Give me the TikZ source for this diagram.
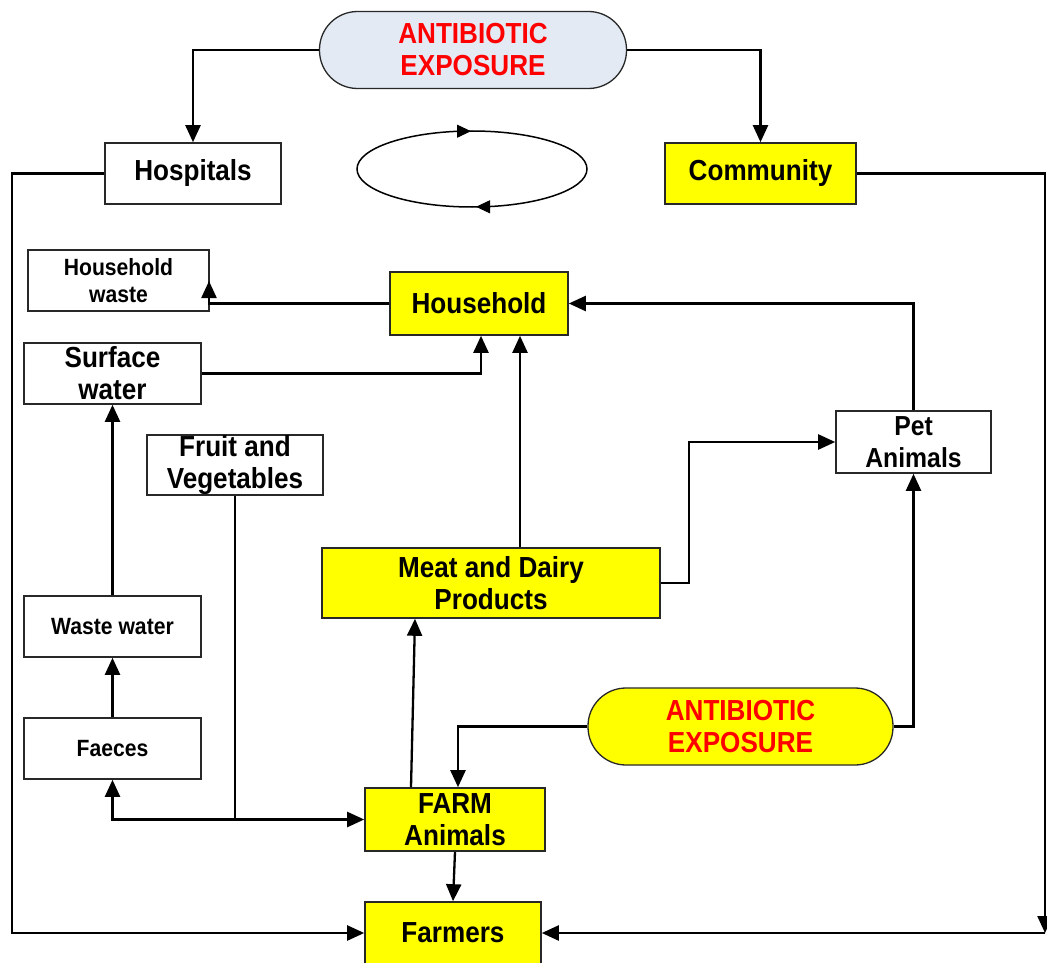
\documentclass[tikz,border=0pt]{standalone}
\usepackage{fontspec}
\setmainfont{Liberation Sans}[FakeStretch=0.9]
\usetikzlibrary{arrows.meta}
\definecolor{pillblue}{RGB}{227,234,244}
\definecolor{boxyellow}{RGB}{255,255,0}
\definecolor{boxedge}{RGB}{40,40,40}
\tikzset{
  box/.style={draw=boxedge, line width=1.6pt, fill=white, inner sep=0pt, align=center,
    font=\bfseries\fontsize{29}{32}\selectfont},
  ybox/.style={box, fill=boxyellow},
  smallbox/.style={box, font=\bfseries\fontsize{23.5}{27}\selectfont},
  pill/.style={draw=boxedge, line width=1.3pt, rounded corners=38pt, inner sep=0pt, align=center,
    text=red, font=\bfseries\fontsize{29}{32}\selectfont},
  conn/.style={draw=black, line width=2.3pt},
  arr/.style={conn, -{Triangle[length=17pt,width=15pt]}},
  darr/.style={conn, {Triangle[length=17pt,width=15pt]}-{Triangle[length=17pt,width=15pt]}},
}
\begin{document}
\begin{tikzpicture}[x=1pt,y=-1pt]
\useasboundingbox (0,0) rectangle (1047,963);
\fill[white] (0,0) rectangle (1047,963);

% nodes
\node[pill, fill=pillblue, minimum width=307pt, minimum height=77pt] (top) at (473,50) {ANTIBIOTIC\\EXPOSURE};
\node[box, minimum width=176pt, minimum height=61pt] (hosp) at (193,173.5) {Hospitals};
\node[ybox, minimum width=191pt, minimum height=61pt] (comm) at (760.5,173.5) {Community};
\node[smallbox, minimum width=181pt, minimum height=61pt] (hw) at (118.5,280.5) {Household\\waste};
\node[ybox, minimum width=178pt, minimum height=63pt] (house) at (479,303.5) {Household};
\node[box, minimum width=177pt, minimum height=61pt] (sw) at (112.5,373.5) {Surface\\water};
\node[box, minimum width=176pt, minimum height=60pt] (fv) at (235,465) {Fruit and\\Vegetables};
\node[box, minimum width=155pt, minimum height=62pt, font=\bfseries\fontsize{27.5}{32}\selectfont] (pet) at (913.5,442) {Pet\\Animals};
\node[ybox, minimum width=338pt, minimum height=70pt] (meat) at (491,583) {Meat and Dairy\\Products};
\node[pill, fill=boxyellow, minimum width=305pt, minimum height=77pt] (ab) at (740.5,726.5) {ANTIBIOTIC\\EXPOSURE};
\node[smallbox, minimum width=177pt, minimum height=61pt] (ww) at (112.5,626.5) {Waste water};
\node[smallbox, minimum width=177pt, minimum height=61pt] (fa) at (112.5,748.5) {Faeces};
\node[ybox, minimum width=180pt, minimum height=63pt] (farm) at (455,819.5) {FARM\\Animals};
\node[ybox, minimum width=176pt, minimum height=62pt] (farmers) at (453,933) {Farmers};

% cycle ellipse
\draw[line width=1.5pt] (472,169) ellipse [x radius=115pt, y radius=38pt];
\coordinate (ea1) at (450,131.2);
\coordinate (ea2) at (471,131.2);
\coordinate (eb1) at (497,206.8);
\coordinate (eb2) at (476,206.8);
\draw[line width=1pt, -{Triangle[length=14pt,width=13pt]}] (ea1) -- (ea2);
\draw[line width=1pt, -{Triangle[length=14pt,width=13pt]}] (eb1) -- (eb2);

% helper coordinates
\coordinate (hwt) at (209,281);
\coordinate (rc) at (1045,933);

% connectors
\draw[arr] (top.west) -| (hosp.north);
\draw[arr] (top.east) -| (comm.north);
\draw[arr] (hosp.west) -- ++(-92,0) |- (farmers.west);
\draw[arr] (comm.east) -| (rc);
\draw[arr] (rc) -- (farmers.east);
\draw[arr] (house.west) -| (hwt);
\draw[arr] (sw.east) -| ([xshift=2pt]house.south);
\draw[arr] ([xshift=29pt]meat.north) -- ([xshift=41pt]house.south);
\draw[arr] (meat.east) -- ++(28,0) |- (pet.west);
\draw[arr] (pet.north) |- (house.east);
\draw[arr] (ab.east) -| (pet.south);
\draw[arr] (ab.west) -| ([xshift=3pt]farm.north);
\draw[arr] (ww.north) -- (sw.south);
\draw[arr] (fa.north) -- (ww.south);
\draw[darr] (fa.south) |- (farm.west);
\draw[conn] (fv.south) -- (fv.south |- farm.west);
\draw[arr] ([xshift=-44pt]farm.north) -- ([xshift=-76pt]meat.south);
\draw[arr] (farm.south) -- (farmers.north);
\end{tikzpicture}
\end{document}
